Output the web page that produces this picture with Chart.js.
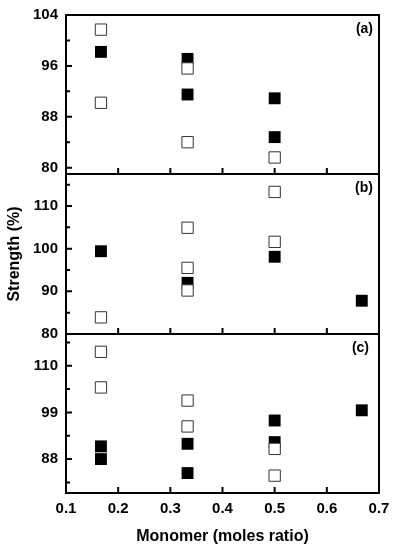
<!DOCTYPE html>
<html>
<head>
<meta charset="utf-8">
<script src="https://cdn.jsdelivr.net/npm/chart.js@4"></script>
<style>
  body { margin: 0; background: #fff; }
  #wrap { position: relative; width: 397px; height: 550px; }
  #wrap canvas { position: absolute; left: 0; }
</style>
</head>
<body>
<div id="wrap">
  <canvas id="pa" width="397" height="181" style="top:0px"></canvas>
  <canvas id="pb" width="397" height="172" style="top:168px"></canvas>
  <canvas id="pc" width="397" height="222" style="top:328px"></canvas>
</div>
<script>
// panel (a)
let aOpenX = [0.167, 0.167, 0.333, 0.333, 0.5];
let aOpenY = [101.7, 90.2, 95.6, 84.0, 81.6];
let aFillX = [0.167, 0.333, 0.333, 0.5, 0.5];
let aFillY = [98.2, 97.1, 91.5, 90.9, 84.8];
let aTicks = [80, 88, 96, 104];
let aMinor = [84, 92, 100];

// panel (b)
let bOpenX = [0.167, 0.333, 0.333, 0.333, 0.5, 0.5];
let bOpenY = [83.9, 104.9, 95.5, 90.2, 113.3, 101.6];
let bFillX = [0.167, 0.333, 0.5, 0.667];
let bFillY = [99.4, 92.0, 98.1, 87.8];
let bTicks = [80, 90, 100, 110];
let bMinor = [85, 95, 105, 115];

// panel (c)
let cOpenX = [0.167, 0.167, 0.333, 0.333, 0.5, 0.5];
let cOpenY = [113.3, 104.9, 101.8, 95.7, 90.4, 84.1];
let cFillX = [0.167, 0.167, 0.333, 0.333, 0.5, 0.5, 0.667];
let cFillY = [91.0, 88.0, 91.6, 84.7, 97.1, 92.0, 99.5];
let cTicks = [88, 99, 110];
let cMinor = [82.5, 93.5, 104.5, 115.5];

let xTicks = [0.1, 0.2, 0.3, 0.4, 0.5, 0.6, 0.7];

const FONT = "'Liberation Sans', Arial, sans-serif";

// frame, inward ticks and the (a)/(b)/(c) tag
const framePlugin = {
    id: 'frame',
    afterDraw(chart, args, opts) {
        const ctx = chart.ctx;
        const a = chart.chartArea;
        const xs = chart.scales.x;
        const ys = chart.scales.y;
        ctx.save();
        ctx.strokeStyle = '#000';
        ctx.lineWidth = 2;
        ctx.strokeRect(a.left, a.top, a.right - a.left, a.bottom - a.top);
        ctx.beginPath();
        xTicks.slice(1, -1).forEach(v => {
            const px = xs.getPixelForValue(v);
            ctx.moveTo(px, a.bottom);
            ctx.lineTo(px, a.bottom - 6);
        });
        opts.major.forEach(v => {
            const py = ys.getPixelForValue(v);
            ctx.moveTo(a.left - 1, py);
            ctx.lineTo(a.left + 6, py);
        });
        opts.minor.forEach(v => {
            const py = ys.getPixelForValue(v);
            ctx.moveTo(a.left, py);
            ctx.lineTo(a.left + 4, py);
        });
        ctx.stroke();
        ctx.fillStyle = '#000';
        ctx.font = 'bold 14px ' + FONT;
        ctx.textAlign = 'right';
        ctx.textBaseline = 'middle';
        ctx.fillText(opts.tag, a.right - 6 + opts.tagDx, a.top + 14);
        ctx.restore();
    }
};

function Panel(id, openX, openY, fillX, fillY, yMin, yMax, major, minor, tag, pad, showX, yTitle, tagDx) {
    const ctx = document.getElementById(id).getContext('2d');
    new Chart(ctx, {
        type: 'scatter',
        data: {
            datasets: [{
                label: 'open',
                data: openX.map((x, i) => ({x: x, y: openY[i]})),
                pointStyle: 'rect',
                pointRadius: 8,
                backgroundColor: '#fff',
                borderColor: '#333',
                borderWidth: 1
            }, {
                label: 'filled',
                data: fillX.map((x, i) => ({x: x, y: fillY[i]})),
                pointStyle: 'rect',
                pointRadius: 8.4,
                backgroundColor: '#000',
                borderColor: '#000',
                borderWidth: 0
            }]
        },
        options: {
            responsive: false,
            animation: false,
            devicePixelRatio: 1,
            events: [],
            layout: { padding: pad, autoPadding: false },
            plugins: {
                legend: { display: false },
                tooltip: { enabled: false },
                frame: { major: major, minor: minor, tag: tag, tagDx: tagDx }
            },
            scales: {
                x: {
                    type: 'linear',
                    min: 0.1,
                    max: 0.7,
                    display: showX,
                    afterBuildTicks: s => { s.ticks = xTicks.map(v => ({value: v})); },
                    afterFit: s => {
                        if (showX) s.height = 57;
                        s.paddingLeft = 0;
                        s.paddingRight = 0;
                    },
                    grid: { display: false, drawTicks: false },
                    border: { display: false },
                    ticks: {
                        color: '#000',
                        padding: 7,
                        maxRotation: 0,
                        font: { family: FONT, size: 15, weight: 'bold' },
                        callback: v => v.toFixed(1)
                    },
                    title: {
                        display: true,
                        text: 'Monomer (moles ratio)',
                        color: '#000',
                        padding: { top: 0, bottom: 4 },
                        font: { family: FONT, size: 16, weight: 'bold' }
                    }
                },
                y: {
                    min: yMin,
                    max: yMax,
                    afterBuildTicks: s => { s.ticks = major.map(v => ({value: v})); },
                    afterFit: s => {
                        s.width = 66;
                        s.paddingTop = 0;
                        s.paddingBottom = 0;
                    },
                    grid: { display: false, drawTicks: false },
                    border: { display: false },
                    ticks: {
                        color: '#000',
                        padding: 8,
                        font: { family: FONT, size: 15, weight: 'bold' }
                    },
                    title: {
                        display: yTitle,
                        text: 'Strength (%)',
                        color: '#000',
                        padding: { top: 5, bottom: 0 },
                        font: { family: FONT, size: 16, weight: 'bold' }
                    }
                }
            }
        },
        plugins: [framePlugin]
    });
}

Panel('pa', aOpenX, aOpenY, aFillX, aFillY, 79, 104, aTicks, aMinor, '(a)',
      {top: 15, right: 18, bottom: 7, left: 0}, false, false, 0);
Panel('pb', bOpenX, bOpenY, bFillX, bFillY, 80, 117.5, bTicks, bMinor, '(b)',
      {top: 6, right: 18, bottom: 6, left: 0}, false, true, 0);
Panel('pc', cOpenX, cOpenY, cFillX, cFillY, 80, 117.5, cTicks, cMinor, '(c)',
      {top: 6, right: 18, bottom: 0, left: 0}, true, false, -4);
</script>
</body>
</html>
